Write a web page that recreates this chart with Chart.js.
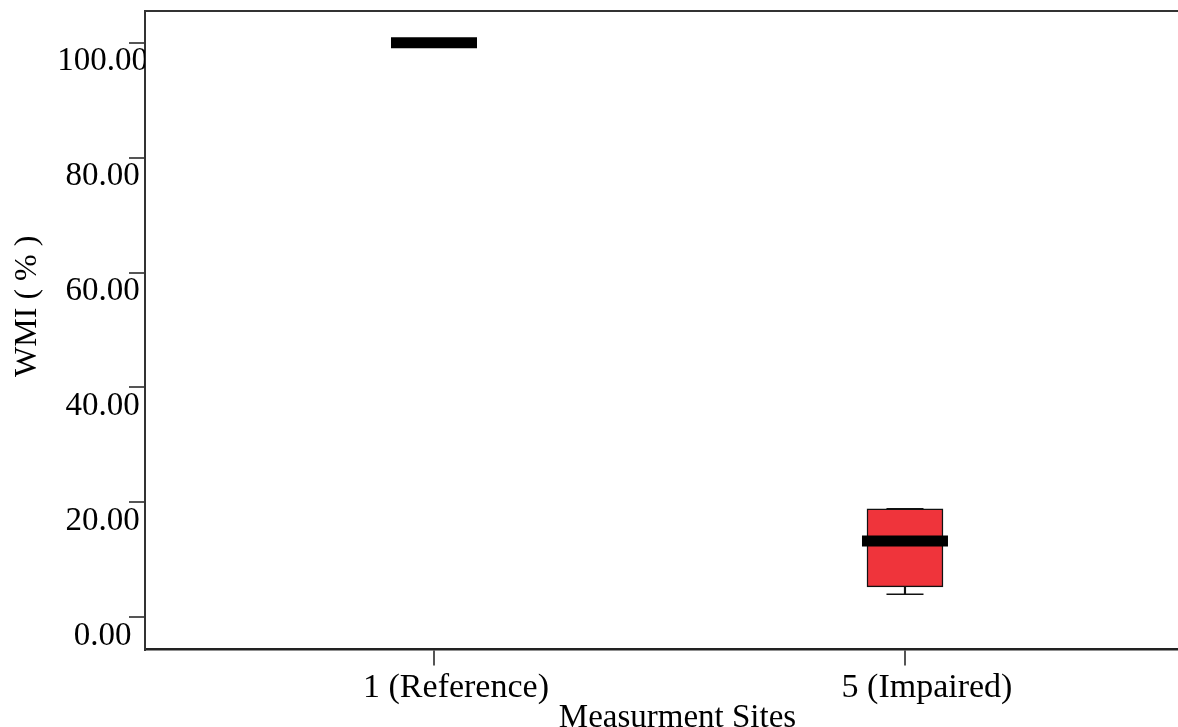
<!DOCTYPE html>
<html>
<head>
<meta charset="utf-8">
<script src="https://cdn.jsdelivr.net/npm/chart.js@4"></script>
<style>
  html, body { margin: 0; padding: 0; overflow: hidden; background: #fff; }
</style>
</head>
<body>
<canvas id="grafico" width="1210" height="740"></canvas>
<script>
// Dados do boxplot
const sites = ['1 (Reference)', '5 (Impaired)'];
const wmiMin = [100, 4.0];
const wmiQ1 = [100, 5.3];
const wmiMedian = [100, 13.3];
const wmiQ3 = [100, 18.9];
const wmiMax = [100, 18.9];
const yTicks = [0, 20, 40, 60, 80, 100];

const fonte = 'Liberation Serif';

const ctx = document.getElementById('grafico').getContext('2d');
const grafico = new Chart(ctx, {
  type: 'bar',
  data: {
    datasets: [
      {
        // mediana (linha grossa)
        type: 'scatter',
        data: sites.map((s, i) => ({ x: i + 1, y: wmiMedian[i] })),
        pointStyle: 'line',
        radius: 43,
        borderWidth: 11,
        borderColor: '#000',
        backgroundColor: '#000'
      },
      {
        // barras dos whiskers
        type: 'scatter',
        data: sites.flatMap((s, i) => [{ x: i + 1, y: wmiMin[i] }, { x: i + 1, y: wmiMax[i] }]),
        pointStyle: 'line',
        radius: 18.5,
        borderWidth: 1.5,
        borderColor: '#111',
        backgroundColor: '#111'
      },
      {
        // haste inferior
        data: sites.map((s, i) => ({ x: i + 1, y: [wmiMin[i], wmiQ1[i]] })),
        backgroundColor: '#111',
        barThickness: 1.5,
        grouped: false
      },
      {
        // haste superior
        data: sites.map((s, i) => ({ x: i + 1, y: [wmiQ3[i], wmiMax[i]] })),
        backgroundColor: '#111',
        barThickness: 1.5,
        grouped: false
      },
      {
        // caixa Q1-Q3
        data: sites.map((s, i) => ({ x: i + 1, y: [wmiQ1[i], wmiQ3[i]] })),
        backgroundColor: '#ef343b',
        borderColor: '#111',
        borderWidth: 1.5,
        borderSkipped: false,
        barThickness: 76,
        grouped: false
      }
    ]
  },
  options: {
    responsive: false,
    animation: false,
    layout: { autoPadding: false, padding: { top: 11, left: 0, right: 0, bottom: 0 } },
    scales: {
      x: {
        type: 'linear',
        position: 'bottom',
        offset: false,
        min: 0.3864,
        max: 2.6476,
        afterBuildTicks: axis => { axis.ticks = sites.map((s, i) => ({ value: i + 1 })); },
        afterFit: axis => { axis.height = 90.5; },
        grid: { offset: false, drawOnChartArea: false, tickLength: 16, color: '#555', lineWidth: 2 },
        border: { display: true, color: '#222', width: 2.5 },
        ticks: {
          callback: v => sites[v - 1],
          font: { family: fonte, size: 34 },
          color: '#000',
          padding: 2,
          labelOffset: 22,
          maxRotation: 0,
          autoSkip: false
        },
        title: {
          display: true,
          text: 'Measurment Sites',
          font: { family: fonte, size: 33 },
          color: '#000',
          padding: { top: 0, bottom: 2 }
        }
      },
      xTopo: {
        type: 'linear',
        position: 'top',
        offset: false,
        afterFit: axis => { axis.height = 0; },
        grid: { display: false, drawTicks: false },
        border: { display: true, color: '#333', width: 2 },
        ticks: { display: false }
      },
      y: {
        min: -5.6,
        max: 105.52,
        afterBuildTicks: axis => { axis.ticks = yTicks.map(v => ({ value: v })); },
        afterFit: axis => { axis.width = 145; },
        grid: { drawOnChartArea: false, tickLength: 16, color: '#555', lineWidth: 2 },
        border: { display: true, color: '#333', width: 2 },
        ticks: {
          callback: v => v.toFixed(2),
          font: { family: fonte, size: 33 },
          color: '#000',
          crossAlign: 'center',
          padding: -19,
          labelOffset: 19
        },
        title: {
          display: true,
          text: '      WMI ( % )',
          font: { family: fonte, size: 32 },
          color: '#000',
          padding: { top: 8, bottom: 0 }
        }
      }
    },
    plugins: {
      legend: { display: false },
      tooltip: { enabled: false }
    }
  }
});
</script>
</body>
</html>
